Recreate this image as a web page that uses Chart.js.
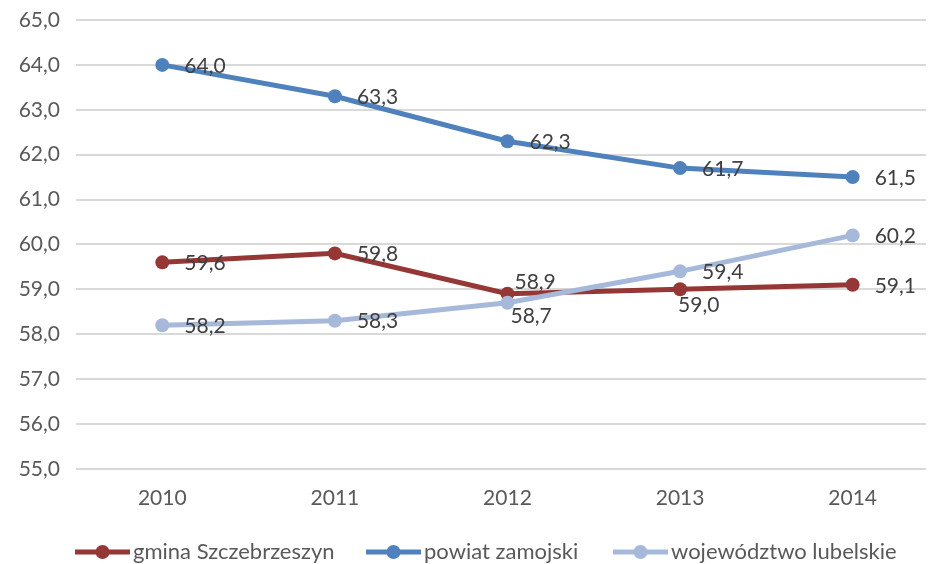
<!DOCTYPE html>
<html>
<head>
<meta charset="utf-8">
<script src="https://cdn.jsdelivr.net/npm/chart.js@4/dist/chart.umd.min.js"></script>
<style>
  html, body { margin: 0; padding: 0; background: #fff; }
  #wrap { width: 933px; height: 564px; }
</style>
</head>
<body>
<div id="wrap"><canvas id="chart" width="933" height="564"></canvas></div>
<script>
const years = [2010, 2011, 2012, 2013, 2014];
const seriesNames = ['gmina Szczebrzeszyn', 'powiat zamojski', 'województwo lubelskie'];
const gmina = [59.6, 59.8, 58.9, 59.0, 59.1];
const powiat = [64.0, 63.3, 62.3, 61.7, 61.5];
const wojewodztwo = [58.2, 58.3, 58.7, 59.4, 60.2];
const yTicks = [55, 56, 57, 58, 59, 60, 61, 62, 63, 64, 65];

const colors = ['#953735', '#4f81bd', '#a7b9da'];
// label placement tweaks (pixel offsets from the point), default is right of the point
const labelOffsets = [
    [null, null, { dx: 7, dy: -12 }, { dx: -2, dy: 16 }, null],
    [null, null, null, null, null],
    [null, null, { dx: 3, dy: 13 }, null, null]
];
const legendStarts = [75, 366, 613];

const fmt = v => v.toFixed(1).replace('.', ',');
const FONT = 'Lato, "Open Sans", sans-serif';

function makeSet(i, values) {
    return {
        label: seriesNames[i],
        data: values.map((v, k) => ({ x: years[k], y: v })),
        borderColor: colors[i],
        backgroundColor: colors[i],
        borderWidth: 5,
        pointRadius: 7,
        pointHoverRadius: 7,
        pointBorderWidth: 0,
        tension: 0,
        order: 3 - i
    };
}

const labelPlugin = {
    id: 'valueLabels',
    afterDatasetsDraw(chart) {
        const ctx = chart.ctx;
        ctx.save();
        ctx.font = '21px ' + FONT;
        ctx.fillStyle = '#404040';
        ctx.textBaseline = 'middle';
        ctx.textAlign = 'left';
        chart.data.datasets.forEach((ds, i) => {
            const meta = chart.getDatasetMeta(i);
            meta.data.forEach((pt, k) => {
                const off = labelOffsets[i][k] || { dx: 22, dy: 1 };
                ctx.fillText(fmt(ds.data[k].y), pt.x + off.dx, pt.y + off.dy);
            });
        });
        ctx.restore();
    }
};

const legendPlugin = {
    id: 'lineLegend',
    afterDraw(chart) {
        const ctx = chart.ctx;
        const y = 552;
        ctx.save();
        ctx.font = '22px ' + FONT;
        ctx.textBaseline = 'middle';
        ctx.textAlign = 'left';
        chart.data.datasets.forEach((ds, i) => {
            const x = legendStarts[i];
            ctx.strokeStyle = ds.borderColor;
            ctx.lineWidth = 5;
            ctx.beginPath();
            ctx.moveTo(x, y);
            ctx.lineTo(x + 55, y);
            ctx.stroke();
            ctx.fillStyle = ds.borderColor;
            ctx.beginPath();
            ctx.arc(x + 27.5, y, 7, 0, Math.PI * 2);
            ctx.fill();
            ctx.fillStyle = '#595959';
            ctx.fillText(ds.label, x + 58, y);
        });
        ctx.restore();
    }
};

new Chart(document.getElementById('chart'), {
    type: 'line',
    data: {
        datasets: [makeSet(0, gmina), makeSet(1, powiat), makeSet(2, wojewodztwo)]
    },
    options: {
        responsive: false,
        animation: false,
        layout: { padding: { top: 20, right: 0, bottom: 36, left: 0 } },
        plugins: {
            legend: { display: false },
            tooltip: { enabled: false }
        },
        scales: {
            x: {
                type: 'linear',
                min: 2009.5,
                max: 2014.425,
                afterBuildTicks: axis => { axis.ticks = years.map(v => ({ value: v })); },
                ticks: {
                    callback: v => String(v),
                    color: '#595959',
                    font: { size: 21, family: FONT },
                    padding: 17,
                    maxRotation: 0
                },
                grid: { display: false, drawTicks: false },
                border: { display: false }
            },
            y: {
                min: 55,
                max: 65,
                afterBuildTicks: axis => { axis.ticks = yTicks.map(v => ({ value: v })); },
                afterFit: axis => {
                    axis.width = 76;
                    axis.paddingTop = 0;
                    axis.paddingBottom = 0;
                },
                ticks: {
                    callback: v => fmt(v),
                    color: '#595959',
                    font: { size: 21, family: FONT },
                    padding: 16
                },
                grid: { color: '#d9d9d9', lineWidth: 2, drawTicks: false },
                border: { display: false }
            }
        }
    },
    plugins: [labelPlugin, legendPlugin]
});
</script>
</body>
</html>
